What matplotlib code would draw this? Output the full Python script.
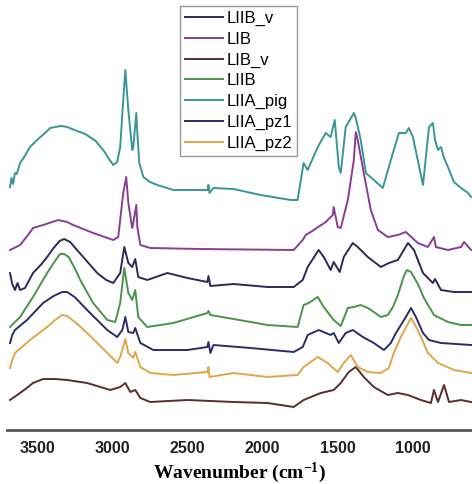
import matplotlib
matplotlib.use('Agg')
import matplotlib.pyplot as plt

# FTIR spectra, stacked with offsets (arbitrary units)
labels = ['LIIB_v', 'LIB', 'LIB_v', 'LIIB', 'LIIA_pig', 'LIIA_pz1', 'LIIA_pz2']
colors = ['#2c2a5a', '#8a3d94', '#5a2d2d', '#4a9448', '#3a9696', '#2c2c68', '#e2a54a']

pig_wn = [3680, 3670, 3660, 3647, 3635, 3613, 3590, 3547, 3500, 3440, 3413, 3380, 3340, 3300, 3250, 3180,
          3110, 3050, 3027, 2993, 2967, 2947, 2927, 2913, 2893, 2867, 2860, 2840, 2833, 2820, 2793, 2750,
          2700, 2593, 2413, 2367, 2360, 2353, 2327, 2193, 2013, 1813, 1767, 1727, 1700, 1633, 1580, 1547,
          1520, 1493, 1480, 1447, 1393, 1380, 1347, 1313, 1260, 1200, 1147, 1093, 1047, 1027, 1000, 933,
          893, 867, 853, 833, 813, 793, 767, 727, 680, 633, 613]
pig_y = [243, 252, 246, 257, 256, 267, 272, 283, 290, 298, 302, 303, 304, 303, 300, 296,
         289, 278, 272, 265, 268, 283, 330, 360, 320, 280, 283, 317, 297, 267, 253, 248,
         245, 240, 240, 240, 245, 237, 242, 241, 235, 230, 230, 267, 260, 283, 297, 293,
         310, 263, 257, 303, 317, 312, 290, 257, 250, 242, 270, 297, 297, 302, 293, 245,
         303, 307, 290, 280, 283, 272, 263, 248, 242, 237, 233]

lib_wn = [3680, 3613, 3560, 3527, 3460, 3400, 3360, 3300, 3260, 3127, 2993, 2960, 2927, 2907, 2893, 2867,
          2860, 2840, 2833, 2813, 2747, 2413, 1793, 1733, 1713, 1680, 1580, 1533, 1527, 1500, 1480, 1433,
          1393, 1380, 1367, 1327, 1280, 1233, 1167, 1100, 1047, 967, 900, 860, 847, 767, 680, 660, 613]
lib_y = [180, 185, 195, 202, 205, 208, 210, 208, 205, 197, 190, 193, 237, 253, 227, 202,
         207, 225, 203, 185, 182, 181, 180, 190, 195, 198, 208, 215, 223, 203, 202, 230,
         270, 298, 290, 257, 220, 200, 193, 195, 198, 187, 183, 193, 183, 180, 183, 188, 180]

liibv_wn = [3680, 3665, 3647, 3630, 3613, 3580, 3527, 3470, 3433, 3390, 3350, 3320, 3280, 3240, 3193, 3100,
            3040, 2993, 2947, 2920, 2893, 2867, 2847, 2827, 2767, 2633, 2500, 2367, 2360, 2347, 2193, 1967,
            1793, 1733, 1700, 1627, 1593, 1547, 1527, 1487, 1460, 1400, 1367, 1300, 1213, 1160, 1100, 1033,
            993, 933, 867, 853, 813, 727, 613]
liibv_y = [157, 146, 140, 147, 140, 142, 157, 166, 173, 182, 189, 191, 188, 181, 173, 157,
           150, 147, 157, 183, 167, 163, 171, 153, 150, 157, 152, 148, 154, 144, 146, 143,
           143, 150, 163, 180, 173, 160, 168, 158, 173, 187, 183, 173, 163, 167, 170, 187,
           180, 157, 147, 151, 140, 138, 138]

liib_wn = [3680, 3613, 3527, 3433, 3390, 3347, 3320, 3290, 3250, 3213, 3127, 3033, 2980, 2947, 2920, 2893,
           2867, 2847, 2827, 2767, 2593, 2367, 2360, 2347, 2193, 1967, 1767, 1727, 1693, 1633, 1593, 1527,
           1480, 1433, 1393, 1347, 1300, 1260, 1213, 1167, 1133, 1100, 1060, 1040, 1013, 967, 927, 860,
           767, 680, 613]
liib_y = [103, 113, 133, 157, 167, 176, 176, 173, 162, 150, 127, 110, 108, 127, 162, 137,
          130, 140, 113, 103, 107, 117, 119, 115, 111, 105, 103, 125, 127, 133, 123, 110,
          104, 122, 123, 125, 122, 118, 113, 115, 123, 135, 154, 160, 158, 146, 132, 115,
          108, 105, 105]

pz1_wn = [3680, 3665, 3647, 3567, 3460, 3390, 3333, 3300, 3250, 3167, 3033, 2967, 2933, 2913, 2893, 2860,
          2847, 2813, 2727, 2500, 2367, 2360, 2347, 2327, 2080, 1793, 1733, 1700, 1627, 1547, 1527, 1493,
          1447, 1400, 1333, 1260, 1193, 1147, 1113, 1047, 1013, 980, 933, 893, 813, 613]
pz1_y = [87, 95, 100, 110, 127, 134, 138, 138, 133, 120, 100, 93, 100, 113, 98, 97,
         102, 87, 80, 80, 83, 88, 77, 85, 82, 78, 83, 95, 100, 95, 97, 87,
         97, 100, 93, 87, 80, 87, 97, 113, 122, 113, 97, 90, 87, 85]

pz2_wn = [3680, 3665, 3647, 3547, 3433, 3380, 3333, 3300, 3240, 3167, 3033, 2967, 2947, 2913, 2893, 2860,
          2847, 2813, 2747, 2593, 2367, 2360, 2353, 2193, 1967, 1767, 1727, 1633, 1567, 1500, 1460, 1413,
          1367, 1300, 1213, 1160, 1127, 1080, 1013, 967, 900, 833, 727, 613]
pz2_y = [62, 70, 77, 90, 103, 110, 115, 114, 107, 97, 77, 67, 73, 91, 77, 72,
         78, 63, 57, 55, 58, 63, 53, 57, 53, 55, 63, 73, 67, 58, 67, 75,
         63, 58, 57, 62, 77, 93, 112, 100, 77, 67, 60, 57]

libv_wn = [3680, 3613, 3560, 3527, 3460, 3380, 3300, 3167, 3013, 2947, 2913, 2880, 2847, 2813, 2747, 2500,
           2193, 1967, 1793, 1727, 1613, 1527, 1480, 1427, 1380, 1327, 1260, 1167, 1100, 1033, 947, 880,
           860, 833, 793, 760, 680, 613]
libv_y = [30, 37, 43, 47, 51, 51, 50, 47, 40, 43, 47, 38, 40, 32, 28, 30,
          28, 27, 23, 30, 37, 40, 47, 58, 63, 53, 43, 35, 37, 35, 30, 27,
          40, 28, 45, 28, 30, 28]

series = [(liibv_wn, liibv_y), (lib_wn, lib_y), (libv_wn, libv_y), (liib_wn, liib_y),
          (pig_wn, pig_y), (pz1_wn, pz1_y), (pz2_wn, pz2_y)]
xticks = [3500, 3000, 2500, 2000, 1500, 1000]

plt.rcParams['mathtext.fontset'] = 'custom'
plt.rcParams['mathtext.rm'] = 'Liberation Serif:bold'
plt.rcParams['mathtext.it'] = 'Liberation Serif:bold'
plt.rcParams['mathtext.bf'] = 'Liberation Serif:bold'

fig = plt.figure(figsize=(4.72, 4.84), dpi=100)
ax = fig.add_axes([7 / 472, 54 / 484, 465 / 472, 430 / 484])

for (wn, y), lab, col in zip(series, labels, colors):
    ax.plot(wn, y, color=col, lw=1.4, label=lab, solid_joinstyle='round')

ax.set_xlim(3700, 607)
ax.set_ylim(0, 430)
for s in ['top', 'left', 'right']:
    ax.spines[s].set_visible(False)
ax.spines['bottom'].set_color('#555555')
ax.spines['bottom'].set_linewidth(2)
ax.set_yticks([])
ax.set_xticks(xticks)
ax.tick_params(axis='x', length=0, pad=8)
for t in ax.get_xticklabels():
    t.set_fontfamily('Liberation Sans')
    t.set_fontweight('bold')
    t.set_fontsize(11.5)
    t.set_color('#222222')
ax.set_xlabel(r'Wavenumber (cm$^{-1}$)', fontfamily='Liberation Serif', fontweight='bold',
              fontsize=14, labelpad=3)

leg = ax.legend(loc='upper left', bbox_to_anchor=(0.372, 0.986), borderaxespad=0,
                prop={'family': 'Liberation Sans', 'size': 12}, handlelength=2.3,
                handletextpad=0.2, labelspacing=0.34, borderpad=0.3, fancybox=False,
                framealpha=1)
leg.get_frame().set_edgecolor('#999999')
leg.get_frame().set_linewidth(1)

fig.savefig('out.png', dpi=100)
